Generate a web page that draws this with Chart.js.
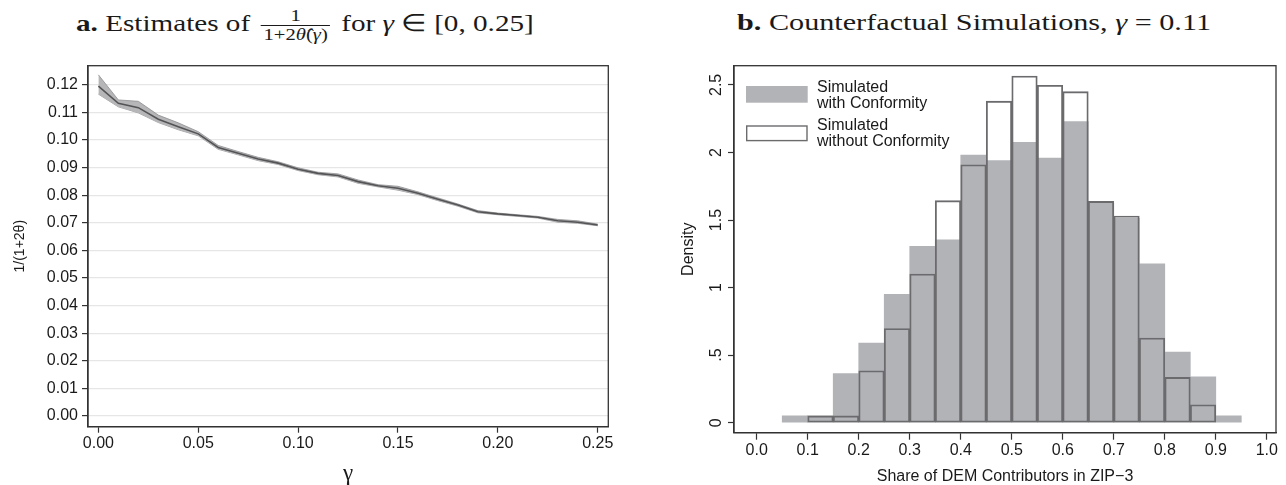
<!DOCTYPE html>
<html>
<head>
<meta charset="utf-8">
<script src="https://cdn.jsdelivr.net/npm/chart.js@4.4.0/dist/chart.umd.min.js"></script>
<style>
  html, body { margin: 0; padding: 0; background: #fff; }
  body { width: 1286px; height: 485px; position: relative; overflow: hidden; color: #1a1a1a; font-family: "Liberation Serif", serif; }
  .ttl { position: absolute; top: 7px; font-size: 24px; line-height: 30px; white-space: nowrap; transform-origin: 0 50%; }
  .frac { display: inline-block; vertical-align: middle; text-align: center; font-size: 17px; line-height: 18px; margin: 0 3px; }
  .frac .num { display: block; border-bottom: 1px solid #1a1a1a; padding: 0 2px; }
  .frac .den { display: block; padding: 0 2px; }
  canvas { position: absolute; top: 50px; }
</style>
</head>
<body>
<div class="ttl" id="title_a" style="left:76px; transform:scaleX(1.215)"><b>a.</b> Estimates of <span class="frac"><span class="num">1</span><span class="den">1+2<i>θ̂</i>(<i>γ</i>)</span></span> for <i>γ</i> ∈ [0, 0.25]</div>
<div class="ttl" id="title_b" style="left:737px; transform:scaleX(1.258)"><b>b.</b> Counterfactual Simulations, <i>γ</i> = 0.11</div>
<canvas id="left_chart" width="640" height="435" style="left:0"></canvas>
<canvas id="right_chart" width="646" height="435" style="left:640px"></canvas>
<script>
// DỮ LIỆU PANEL A
const gammaValues = [0, 0.01, 0.02, 0.03, 0.04, 0.05, 0.06, 0.07, 0.08, 0.09, 0.10, 0.11, 0.12,
  0.13, 0.14, 0.15, 0.16, 0.17, 0.18, 0.19, 0.20, 0.21, 0.22, 0.23, 0.24, 0.25];
const estimate = [0.1195, 0.1133, 0.1117, 0.1075, 0.1048, 0.1022, 0.0973, 0.0952, 0.0931, 0.0916,
  0.0894, 0.0879, 0.0871, 0.0849, 0.0834, 0.0825, 0.0807, 0.0785, 0.0764, 0.0740, 0.0732, 0.0726,
  0.0720, 0.0707, 0.0702, 0.0692];
const upperBand = [0.1236, 0.1145, 0.1140, 0.1090, 0.1062, 0.1030, 0.0980, 0.0958, 0.0937, 0.0921,
  0.0899, 0.0883, 0.0877, 0.0855, 0.0838, 0.0832, 0.0812, 0.0790, 0.0768, 0.0744, 0.0735, 0.0729,
  0.0723, 0.0712, 0.0707, 0.0695];
const lowerBand = [0.1166, 0.1120, 0.1098, 0.1063, 0.1037, 0.1015, 0.0966, 0.0946, 0.0925, 0.0911,
  0.0889, 0.0874, 0.0866, 0.0843, 0.0830, 0.0818, 0.0802, 0.0780, 0.0760, 0.0736, 0.0729, 0.0723,
  0.0717, 0.0702, 0.0698, 0.0689];
const leftXTicks = [0, 0.05, 0.10, 0.15, 0.20, 0.25];
const leftYTicks = [0, 0.01, 0.02, 0.03, 0.04, 0.05, 0.06, 0.07, 0.08, 0.09, 0.10, 0.11, 0.12];

// DỮ LIỆU PANEL B
const binCenters = [0.075, 0.125, 0.175, 0.225, 0.275, 0.325, 0.375, 0.425, 0.475, 0.525, 0.575,
  0.625, 0.675, 0.725, 0.775, 0.825, 0.875, 0.925];
const withConformity = [0.05, 0.05, 0.364, 0.59, 0.95, 1.306, 1.353, 1.98, 1.939, 2.074, 1.959,
  2.229, 1.624, 1.513, 1.176, 0.522, 0.34, 0.05];
const withoutConformity = [null, 0.05, 0.05, 0.384, 0.697, 1.10, 1.643, 1.909, 2.38, 2.566, 2.497,
  2.45, 1.638, 1.53, 0.627, 0.335, 0.133, null];
const rightXTicks = [0, 0.1, 0.2, 0.3, 0.4, 0.5, 0.6, 0.7, 0.8, 0.9, 1.0];
const rightYTicks = [0, 0.5, 1, 1.5, 2, 2.5];
const rightYLabels = ["0", ".5", "1", "1.5", "2", "2.5"];
const legendLabels = [["Simulated", "with Conformity"], ["Simulated", "without Conformity"]];

const TEXT = "#1a1a1a";
const AXIS = "#333";
const BAR_GRAY = "#b2b3b7";
const BAR_EDGE = "#6b6b6e";

Chart.defaults.font.family = "'Liberation Sans', Arial, sans-serif";
Chart.defaults.font.size = 16;
Chart.defaults.color = TEXT;

function toPoints(xs, ys) {
  return xs.map((x, i) => ({ x: x, y: ys[i] }));
}

// khung quanh vùng vẽ
const framePlugin = {
  id: "frame",
  afterDraw(chart) {
    const { ctx, chartArea: a } = chart;
    ctx.save();
    ctx.strokeStyle = AXIS;
    ctx.lineWidth = 1.3;
    ctx.strokeRect(a.left, a.top, a.right - a.left, a.bottom - a.top);
    ctx.restore();
  },
};

// nhãn trục y xoay dọc (kiểu Stata)
const rotatedTicksPlugin = {
  id: "rotatedTicks",
  afterDraw(chart) {
    const ctx = chart.ctx;
    const y = chart.scales.y;
    ctx.save();
    ctx.font = "16px 'Liberation Sans', Arial, sans-serif";
    ctx.fillStyle = TEXT;
    ctx.textAlign = "center";
    ctx.textBaseline = "middle";
    rightYTicks.forEach((v, i) => {
      ctx.save();
      ctx.translate(chart.chartArea.left - 17, y.getPixelForValue(v));
      ctx.rotate(-Math.PI / 2);
      ctx.fillText(rightYLabels[i], 0, 0);
      ctx.restore();
    });
    ctx.restore();
  },
};

// chú thích bên trong vùng vẽ
const insideLegendPlugin = {
  id: "insideLegend",
  afterDraw(chart) {
    const ctx = chart.ctx;
    const a = chart.chartArea;
    const bx = a.left + 12;
    const tx = a.left + 83;
    ctx.save();
    ctx.fillStyle = BAR_GRAY;
    ctx.fillRect(bx, a.top + 20.3, 61.7, 16.7);
    ctx.strokeStyle = BAR_EDGE;
    ctx.lineWidth = 1.4;
    ctx.strokeRect(bx + 0.7, a.top + 60.3, 60.3, 14.6);
    ctx.font = "16px 'Liberation Sans', Arial, sans-serif";
    ctx.fillStyle = TEXT;
    ctx.textAlign = "left";
    ctx.textBaseline = "middle";
    ctx.fillText(legendLabels[0][0], tx, a.top + 21.6);
    ctx.fillText(legendLabels[0][1], tx, a.top + 37.6);
    ctx.fillText(legendLabels[1][0], tx, a.top + 59.6);
    ctx.fillText(legendLabels[1][1], tx, a.top + 76);
    ctx.restore();
  },
};

// BIỂU ĐỒ A
const leftCtx = document.getElementById("left_chart").getContext("2d");
new Chart(leftCtx, {
  type: "line",
  data: {
    datasets: [
      {
        label: "estimate",
        data: toPoints(gammaValues, estimate),
        borderColor: "#545456",
        borderWidth: 1.6,
        pointRadius: 0,
        tension: 0,
        fill: false,
      },
      {
        label: "upper",
        data: toPoints(gammaValues, upperBand),
        borderColor: "#8f8f92",
        borderWidth: 0.8,
        backgroundColor: "#b6b6b9",
        pointRadius: 0,
        tension: 0,
        fill: "+1",
      },
      {
        label: "lower",
        data: toPoints(gammaValues, lowerBand),
        borderColor: "#8f8f92",
        borderWidth: 0.8,
        pointRadius: 0,
        tension: 0,
        fill: false,
      },
    ],
  },
  options: {
    responsive: false,
    animation: false,
    layout: { padding: { top: 15.7, right: 31.7, left: 0, bottom: 0 } },
    plugins: { legend: { display: false }, tooltip: { enabled: false } },
    scales: {
      x: {
        type: "linear",
        min: -0.0052,
        max: 0.2553,
        afterBuildTicks: (s) => { s.ticks = leftXTicks.map((v) => ({ value: v })); },
        afterFit: (s) => { s.height = 58.3; },
        ticks: { padding: 1, callback: (v) => v.toFixed(2) },
        grid: { drawOnChartArea: false, tickLength: 6, tickColor: AXIS, tickWidth: 1.2 },
        border: { color: AXIS, width: 1.3 },
        title: {
          display: true,
          text: "γ",
          font: { family: "'Liberation Serif', serif", size: 23, lineHeight: 1 },
          padding: { top: 6, bottom: 0 },
        },
      },
      y: {
        type: "linear",
        min: -0.0039,
        max: 0.1269,
        afterBuildTicks: (s) => { s.ticks = leftYTicks.map((v) => ({ value: v })); },
        afterFit: (s) => { s.width = 88; },
        ticks: { padding: 4, callback: (v) => v.toFixed(2) },
        grid: { color: "#e6e6e6", lineWidth: 1.2, tickLength: 6, tickColor: AXIS, tickWidth: 1.2 },
        border: { color: AXIS, width: 1.3 },
        title: {
          display: true,
          text: "1/(1+2θ)",
          font: { size: 14, lineHeight: 1 },
          padding: { top: 13, bottom: 0 },
        },
      },
    },
  },
  plugins: [framePlugin],
});

// BIỂU ĐỒ B
const rightCtx = document.getElementById("right_chart").getContext("2d");
new Chart(rightCtx, {
  type: "bar",
  data: {
    datasets: [
      {
        label: "Simulated without Conformity",
        data: toPoints(binCenters, withoutConformity),
        backgroundColor: "rgba(0,0,0,0)",
        borderColor: BAR_EDGE,
        borderWidth: 1.2,
        borderSkipped: false,
        grouped: false,
        barPercentage: 1,
        categoryPercentage: 1,
      },
      {
        label: "Simulated with Conformity",
        data: toPoints(binCenters, withConformity),
        backgroundColor: BAR_GRAY,
        borderWidth: 0,
        grouped: false,
        barPercentage: 1,
        categoryPercentage: 1,
      },
    ],
  },
  options: {
    responsive: false,
    animation: false,
    layout: { padding: { top: 15.7, right: 10, left: 0, bottom: 0 } },
    plugins: { legend: { display: false }, tooltip: { enabled: false } },
    scales: {
      x: {
        type: "linear",
        offset: false,
        min: -0.0445,
        max: 1.018,
        afterBuildTicks: (s) => { s.ticks = rightXTicks.map((v) => ({ value: v })); },
        afterFit: (s) => { s.height = 52.3; },
        ticks: { padding: 1, callback: (v) => v.toFixed(1) },
        grid: { offset: false, drawOnChartArea: false, tickLength: 7, tickColor: AXIS, tickWidth: 1.2 },
        border: { color: AXIS, width: 1.3 },
        title: {
          display: true,
          text: "Share of DEM Contributors in ZIP−3",
          font: { size: 16, lineHeight: 1 },
          padding: { top: 0.3, bottom: 0 },
        },
      },
      y: {
        type: "linear",
        min: -0.074,
        max: 2.642,
        afterBuildTicks: (s) => { s.ticks = rightYTicks.map((v) => ({ value: v })); },
        afterFit: (s) => { s.width = 94; },
        ticks: { display: false },
        grid: { drawOnChartArea: false, tickLength: 6, tickColor: AXIS, tickWidth: 1.2 },
        border: { color: AXIS, width: 1.3 },
        title: {
          display: true,
          text: "Density",
          font: { size: 16, lineHeight: 1 },
          padding: { top: 40.3, bottom: 0 },
        },
      },
    },
  },
  plugins: [framePlugin, rotatedTicksPlugin, insideLegendPlugin],
});
</script>
</body>
</html>
